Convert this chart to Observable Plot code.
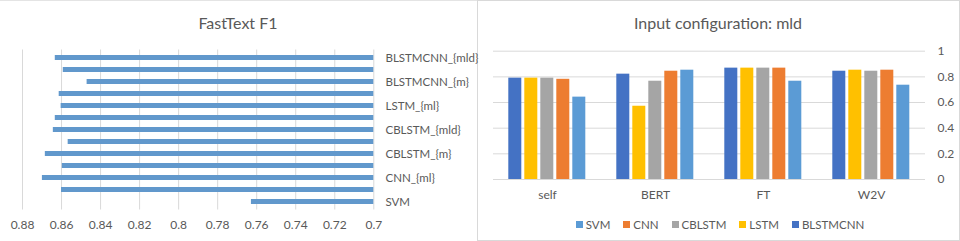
<!DOCTYPE html>
<html><head><meta charset="utf-8">
<script src="https://cdn.jsdelivr.net/npm/d3@7"></script>
<script src="https://cdn.jsdelivr.net/npm/@observablehq/plot@0.6"></script>
<style>
body{margin:0;background:#fff;}
#wrap{position:relative;width:960px;height:241px;overflow:hidden;font-family:Lato,sans-serif;color:#595959;background:#fff;}
.title{position:absolute;top:12px;height:22px;line-height:22px;font-size:16px;text-align:center;color:#595959;}
.panel{position:absolute;}
.panel svg{overflow:visible;}
#rightBox{position:absolute;left:477px;top:0;width:481px;height:239px;border:1px solid #d9d9d9;}
#leftBox{position:absolute;left:0;top:0;width:477px;height:0;border-top:1px solid #e4e4e4;}
#legend{position:absolute;left:480px;top:208px;width:480px;}
#legend > div{justify-content:center !important;}
#legend span{margin-right:13px !important;}
#legend span:last-child{margin-right:0 !important;}
#legend svg{margin-right:3px !important;}
</style></head>
<body>
<div id="wrap">
  <div id="leftBox"></div>
  <div id="rightBox"></div>
  <div class="title" style="left:0;width:476px;">FastText F1</div>
  <div class="title" style="left:477px;width:482px;">Input configuration: mld</div>
  <div class="panel" id="left" style="left:0;top:0;"></div>
  <div class="panel" id="right" style="left:480px;top:0;"></div>
  <div id="legend"></div>
</div>
<script>
// ---- Left chart: FastText F1 (bottom-to-top order, as in the source) ----
const leftCategories = ["SVM","CNN_{m}","CNN_{ml}","CNN_{mld}","CBLSTM_{m}","CBLSTM_{ml}","CBLSTM_{mld}","LSTM_{m}","LSTM_{ml}","LSTM_{mld}","BLSTMCNN_{m}","BLSTMCNN_{ml}","BLSTMCNN_{mld}"];
const leftValues = [0.7627,0.860,0.8698,0.8596,0.8683,0.8566,0.8642,0.8632,0.8602,0.8612,0.8469,0.8591,0.8632];
const leftTickLabels = ["SVM","CNN_{ml}","CBLSTM_{m}","CBLSTM_{mld}","LSTM_{ml}","BLSTMCNN_{m}","BLSTMCNN_{mld}"];
const leftXTicks = [0.88,0.86,0.84,0.82,0.8,0.78,0.76,0.74,0.72,0.7];
const leftBaseline = 0.7;

// ---- Right chart: Input configuration: mld ----
const groups = ["self","BERT","FT","W2V"];
const series = ["SVM","CNN","CBLSTM","LSTM","BLSTMCNN"];
const seriesColors = ["#5B9BD5","#ED7D31","#A5A5A5","#FFC000","#4472C4"];
const valSVM = [0.642,0.852,0.766,0.735];
const valCNN = [0.781,0.844,0.868,0.852];
const valCBLSTM = [0.790,0.766,0.868,0.844];
const valLSTM = [0.790,0.571,0.868,0.852];
const valBLSTMCNN = [0.790,0.821,0.868,0.844];
const barOrder = ["BLSTMCNN","LSTM","CBLSTM","CNN","SVM"];
const rightYTicks = [0,0.2,0.4,0.6,0.8,1];

const leftData = leftCategories.map((m,i)=>({model:m, f1:leftValues[i]}));
const seriesVals = {SVM:valSVM, CNN:valCNN, CBLSTM:valCBLSTM, LSTM:valLSTM, BLSTMCNN:valBLSTMCNN};
const rightData = [];
groups.forEach((g,gi)=>series.forEach(s=>rightData.push({group:g, series:s, value:seriesVals[s][gi]})));

const font = {fontFamily:"Lato, sans-serif", fontSize:"12px", color:"#595959", background:"transparent", overflow:"visible"};

const left = Plot.plot({
  width: 477, height: 241,
  marginLeft: 22, marginRight: 103.7, marginTop: 49.5, marginBottom: 31.5,
  style: font,
  x: {domain:[0.7,0.88], reverse:true},
  y: {domain: leftCategories, reverse:true, paddingInner:0.62, paddingOuter:0.31},
  marks: [
    Plot.gridX(leftXTicks, {stroke:"#d9d9d9", strokeOpacity:1}),
    Plot.barX(leftData, {y:"model", x1: d=>leftBaseline, x2:"f1", fill:"#6198cc"}),
    Plot.axisX(leftXTicks, {anchor:"bottom", tickSize:0, tickPadding:10.5, label:null, tickFormat:d=>String(d)}),
    Plot.axisY(leftTickLabels, {anchor:"right", tickSize:0, tickPadding:11.7, label:null, fontSize:11.5})
  ]
});
document.getElementById("left").appendChild(left);

const right = Plot.plot({
  width: 480, height: 241,
  marginLeft: 12.7, marginRight: 35, marginTop: 50.7, marginBottom: 62,
  style: font,
  fx: {domain: groups, padding:0, label:null, axis:"bottom", tickSize:0, tickPadding:10.7},
  x: {domain: barOrder, paddingInner:0.21, paddingOuter:0.9, axis:null},
  y: {domain:[0,1]},
  color: {domain: series, range: seriesColors},
  marks: [
    Plot.gridY(rightYTicks, {stroke:"#d9d9d9", strokeOpacity:1}),
    Plot.barY(rightData, {fx:"group", x:"series", y:"value", fill:"series"}),
    Plot.axisY(rightYTicks, {anchor:"right", tickSize:0, tickPadding:12, label:null, tickFormat:d=>String(d)})
  ]
});
document.getElementById("right").appendChild(right);

const legend = Plot.legend({
  color: {domain: series, range: seriesColors},
  legend: "swatches", swatchSize: 7, className: "lg",
  style: {fontFamily:"Lato, sans-serif", fontSize:"11.5px", color:"#595959"}
});
document.getElementById("legend").appendChild(legend);
</script>
</body></html>
